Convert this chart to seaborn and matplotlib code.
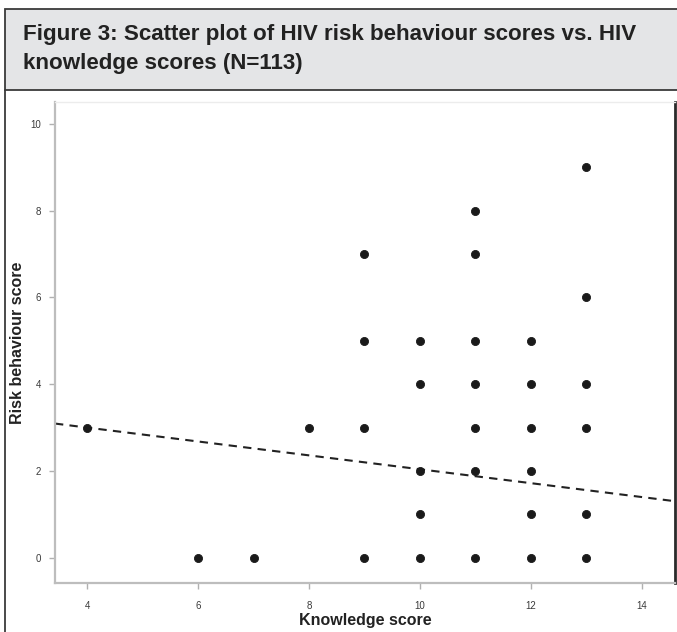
import matplotlib
matplotlib.use("Agg")
import matplotlib.pyplot as plt
from matplotlib.patches import Rectangle
from matplotlib.lines import Line2D
import pandas as pd
import seaborn as sns

# Knowledge score (x) and risk behaviour score (y) for each distinct position
knowledge = [4, 6, 7, 8,
             9, 9, 9, 9,
             10, 10, 10, 10, 10,
             11, 11, 11, 11, 11, 11, 11,
             12, 12, 12, 12, 12, 12,
             13, 13, 13, 13, 13, 13]
risk = [3, 0, 0, 3,
        7, 5, 3, 0,
        5, 4, 2, 1, 0,
        8, 7, 5, 4, 3, 2, 0,
        5, 4, 3, 2, 1, 0,
        9, 6, 4, 3, 1, 0]

# Linear fit line: risk = intercept + slope * knowledge
fit_intercept = 3.64
fit_slope = -0.16

x_ticks = [4, 6, 8, 10, 12, 14]
y_ticks = [0, 2, 4, 6, 8, 10]

title_text = "Figure 3: Scatter plot of HIV risk behaviour scores vs. HIV\nknowledge scores (N=113)"
x_label = "Knowledge score"
y_label = "Risk behaviour score"

sns.set_theme(style="white")
plt.rcParams["font.family"] = ["Liberation Sans", "DejaVu Sans"]

W, H = 677, 632
fig = plt.figure(figsize=(W / 100, H / 100), dpi=100)
fig.patch.set_facecolor("white")

# Title band
fig.patches.append(Rectangle((5 / W, 1 - 90 / H), 1.0, 81 / H, transform=fig.transFigure,
                             facecolor="#e4e5e7", edgecolor="#3a3a3a", linewidth=1.3, zorder=0))
fig.text(23 / W, 1 - 49 / H, title_text, ha="left", va="center", fontsize=16.1,
         fontweight="bold", color="#222222", linespacing=1.5)
# Outer frame of the figure panel
fig.add_artist(Line2D([5 / W, 5 / W], [0, 1 - 90 / H], transform=fig.transFigure,
                      color="#3a3a3a", linewidth=1.3))

ax_left, ax_right, ax_top, ax_bottom = 55, 675, 102, 583
ax_w, ax_h = ax_right - ax_left, ax_bottom - ax_top
ax = fig.add_axes([ax_left / W, 1 - ax_bottom / H, ax_w / W, ax_h / H])
df = pd.DataFrame({"knowledge": knowledge, "risk": risk})
sns.scatterplot(data=df, x="knowledge", y="risk", ax=ax, s=34, color="#1a1a1a",
                edgecolor="#1a1a1a", linewidth=0.6, zorder=3)

xlim = (3.42, 14.6)
ylim = (-0.58, 10.5)
fit_df = pd.DataFrame({"knowledge": list(xlim),
                       "risk": [fit_intercept + fit_slope * v for v in xlim]})
sns.lineplot(data=fit_df, x="knowledge", y="risk", ax=ax, color="#222222",
             linewidth=1.5, linestyle=(0, (4, 3)), zorder=2)

ax.set_xlim(*xlim)
ax.set_ylim(*ylim)
ax.set_xticks(x_ticks)
ax.set_yticks(y_ticks)
ax.set_xticklabels([str(t) for t in x_ticks])
ax.set_yticklabels([str(t) for t in y_ticks])
ax.tick_params(axis="both", which="both", direction="out", length=4, width=1,
               color="#b0b0b0", labelsize=7, labelcolor="#3a3a3a",
               bottom=True, left=True)
ax.tick_params(axis="x", pad=9)
ax.tick_params(axis="y", pad=6)
ax.set_xlabel(x_label, fontsize=11.5, fontweight="bold", color="#222222", va="center")
ax.xaxis.set_label_coords(0.5, (ax_bottom - 621) / ax_h)
ax.set_ylabel(y_label, fontsize=11.5, fontweight="bold", color="#222222", va="center")
ax.yaxis.set_label_coords((18 - ax_left) / ax_w, 0.5)

for side in ["left", "bottom"]:
    ax.spines[side].set_color("#bdbdbd")
    ax.spines[side].set_linewidth(1.6)
ax.spines["top"].set_color("#ececec")
ax.spines["top"].set_linewidth(1.0)
ax.spines["right"].set_color("#2a2a2a")
ax.spines["right"].set_linewidth(2.0)
ax.grid(False)

fig.savefig("out.png", dpi=100)
